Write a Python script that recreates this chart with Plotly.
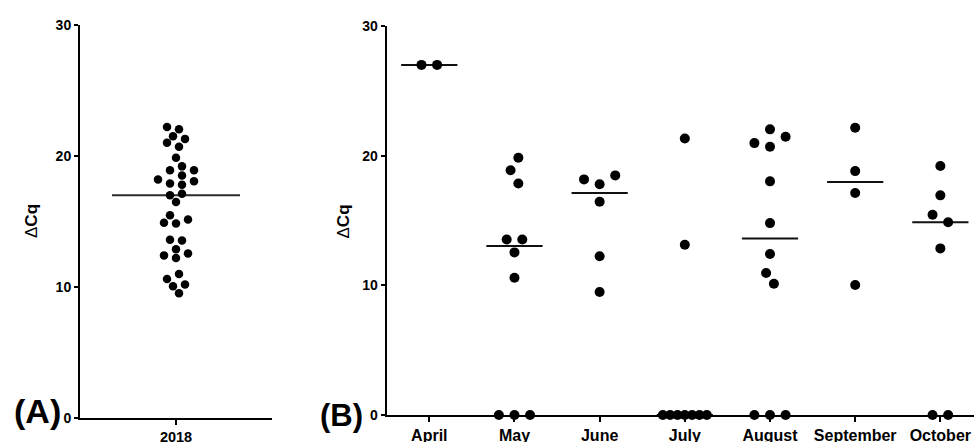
import numpy as np
import plotly.graph_objects as go

# ---------------- data ----------------
year_label = ["2018"]
dcq_2018 = [22.2, 22.04, 21.5, 21.3, 21.0, 20.7, 19.85, 19.2, 18.9, 18.9, 18.5,
            18.2, 18.07, 17.9, 17.8, 17.1, 17.0, 16.47, 15.47, 15.14, 14.89, 14.84,
            13.6, 13.54, 12.87, 12.55, 12.4, 12.2, 10.97, 10.6, 10.18, 10.05, 9.5]

months = ["April", "May", "June", "July", "August", "September", "October"]
april = [27.0, 27.0]
may = [19.84, 18.87, 17.86, 13.54, 13.54, 12.54, 10.59, 0, 0, 0]
june = [18.48, 18.17, 17.79, 16.45, 12.24, 9.48]
july = [21.33, 13.13, 0, 0, 0, 0, 0, 0, 0]
august = [22.03, 21.46, 20.97, 20.69, 18.02, 14.80, 12.41, 10.95, 10.12, 0, 0, 0]
september = [22.15, 18.81, 17.12, 10.02]
october = [19.2, 16.94, 15.44, 14.86, 12.85, 0, 0]
monthly = [april, may, june, july, august, september, october]

y_ticks = [0, 10, 20, 30]

# ---------------- helpers ----------------
FONT = "Liberation Sans, Arial, sans-serif"
W, H = 974, 442


def px(sx=None, sy=None):
    """screen pixel -> paper fraction"""
    if sx is not None and sy is None:
        return sx / W
    if sy is not None and sx is None:
        return 1 - sy / H
    return sx / W, 1 - sy / H


def beeswarm(vals, px_per_y, step, dmin, limit):
    """Greedy beeswarm offsets (in pixels)."""
    v = np.asarray(vals, float)
    ys = v * px_per_y
    order = np.argsort(v, kind="stable")
    off = np.zeros(len(v))
    placed = []
    cands = [0] + [s * j for j in range(1, 60) for s in (-1, 1)]
    for i in order:
        for c in cands:
            x = c * step
            if all((x - off[j]) ** 2 + (ys[i] - ys[j]) ** 2 >= dmin ** 2 for j in placed):
                off[i] = x
                break
        placed.append(i)
    srt = list(order)
    clusters, cur = [], [srt[0]]
    for a, b in zip(srt[:-1], srt[1:]):
        if ys[b] - ys[a] < dmin:
            cur.append(b)
        else:
            clusters.append(cur)
            cur = [b]
    clusters.append(cur)
    for cl in clusters:
        cl = np.array(cl)
        off[cl] -= (off[cl].max() + off[cl].min()) / 2
    m = np.abs(off).max()
    if m > limit:
        off *= limit / m
    return off


fig = go.Figure()

A_px_x = 96.0
A_px_y = 13.09
offA = beeswarm(dcq_2018, A_px_y, 6.0, 8.6, 60.0) / A_px_x
medA = float(np.median(dcq_2018))
fig.add_trace(go.Scatter(x=[-0.667, 0.667], y=[medA, medA], mode="lines",
                         line=dict(color="#2a2a2a", width=2), xaxis="x", yaxis="y",
                         hoverinfo="skip", cliponaxis=False))
fig.add_trace(go.Scatter(x=0 + offA, y=dcq_2018, mode="markers",
                         marker=dict(color="black", size=8.5, line=dict(width=0)),
                         xaxis="x", yaxis="y", cliponaxis=False))

B_px_x = 85.18
B_px_y = 12.97
for ci, vals in enumerate(monthly):
    off = beeswarm(vals, B_px_y, 7.8, 13.2, 22.0) / B_px_x
    med = float(np.median(vals))
    fig.add_trace(go.Scatter(x=[ci - 0.33, ci + 0.33], y=[med, med], mode="lines",
                             line=dict(color="#111111", width=2), xaxis="x2", yaxis="y2",
                             hoverinfo="skip", cliponaxis=False))
    fig.add_trace(go.Scatter(x=ci + off, y=vals, mode="markers",
                             marker=dict(color="black", size=10, line=dict(width=0)),
                             xaxis="x2", yaxis="y2", cliponaxis=False))


def xax(domain, rng, tickvals, ticktext, size, anchor):
    return dict(domain=domain, range=rng, tickvals=tickvals, ticktext=ticktext,
                showline=True, linewidth=2, linecolor="black", ticks="outside",
                ticklen=5, tickwidth=1.5, tickcolor="black", showgrid=False,
                zeroline=False, anchor=anchor, fixedrange=True, automargin=False,
                ticklabeloverflow="allow",
                tickfont=dict(family=FONT, size=size, color="black", weight="bold"))


def yax(domain, anchor):
    return dict(domain=domain, range=[0, 30], tickvals=y_ticks,
                showline=True, linewidth=2, linecolor="black", ticks="outside",
                ticklen=4, tickwidth=1.5, tickcolor="black", showgrid=False,
                zeroline=False, anchor=anchor, fixedrange=True, automargin=False,
                tickfont=dict(family=FONT, size=14, color="black", weight="bold"))


fig.update_layout(
    width=W, height=H, autosize=False,
    margin=dict(l=0, r=0, t=0, b=0, pad=0),
    paper_bgcolor="white", plot_bgcolor="white",
    showlegend=False,
    xaxis=xax([px(sx=80), px(sx=272)], [-1, 1], [0], year_label, 14.5, "y"),
    yaxis=yax([px(sy=417.7), px(sy=25)], "x"),
    xaxis2=xax([px(sx=386.7), 1.0], [-0.5, 6.395], list(range(len(months))), months, 16, "y2"),
    yaxis2=yax([px(sy=415), px(sy=26)], "x2"),
)

annots = [
    dict(text="Δ<b>Cq</b>", pos=(31.5, 221.5), size=17, angle=-90),
    dict(text="Δ<b>Cq</b>", pos=(342.5, 222), size=17, angle=-90),
    dict(text="<b>(A)</b>", pos=(37.5, 411), size=34, angle=0),
    dict(text="<b>(B)</b>", pos=(341, 415), size=31, angle=0),
]
for a in annots:
    ax_, ay_ = px(*a["pos"])
    fig.add_annotation(text=a["text"], x=ax_, y=ay_, xref="paper", yref="paper",
                       xanchor="center", yanchor="middle", showarrow=False,
                       textangle=a["angle"],
                       font=dict(family=FONT, size=a["size"], color="black"))

fig.write_html(
    "out.html",
    config={"displayModeBar": False},
    post_script="document.body.style.margin='0';document.body.style.overflow='hidden';",
)
